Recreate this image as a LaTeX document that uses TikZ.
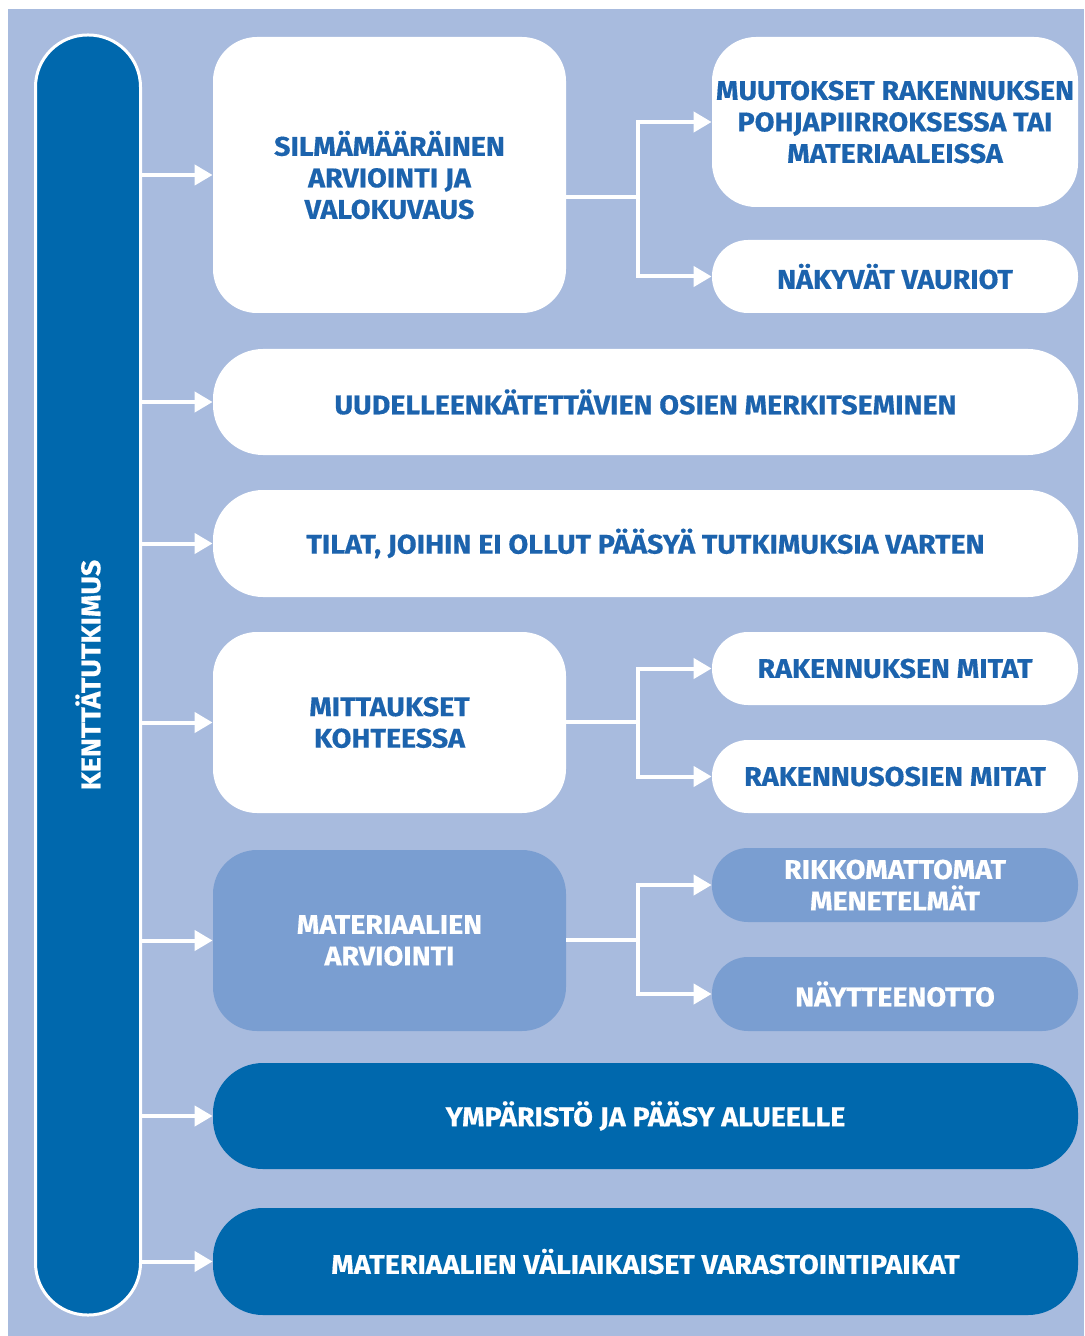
\documentclass[tikz,border=0pt]{standalone}
\usepackage{fontspec}
\usepackage{graphicx}
\setmainfont{Fira Sans}[BoldFeatures={FakeStretch=1.06,FakeBold=0.4}]
\usetikzlibrary{arrows.meta}
\definecolor{bg}{HTML}{A8BBDE}
\definecolor{dk}{HTML}{0068AD}
\definecolor{md}{HTML}{7A9ED1}
\definecolor{tx}{HTML}{1C63AD}
% name x1 y1 x2 y2 style radius text
\newcommand\bx[8]{%
\node[#6, rounded corners=#7, minimum width={(#4-#2)*0.5pt}, minimum height={(#5-#3)*0.5pt}] (#1) at ({(#2+#4)/2},{(#3+#5)/2}) {#8};}
\tikzset{
  base/.style={inner sep=0pt, align=center, font=\fontsize{13.5}{15.75}\selectfont\bfseries},
  wbox/.style={base, fill=white, text=tx},
  mbox/.style={base, fill=md, text=white},
  dbox/.style={base, fill=dk, text=white},
  conn/.style={draw=white, line width=2pt},
  arr/.style={conn, -{Triangle[length=9pt,width=10pt]}}
}
\begin{document}
\begin{tikzpicture}[x=0.5pt,y=-0.5pt]
\useasboundingbox (0,0) rectangle (1084,1336);
\fill[white] (0,0) rectangle (1084,1336);
\fill[bg] (8,9) rectangle (1084,1336);
% pillar
\node[base, fill=dk, draw=white, line width=1.5pt, text=white, rounded corners=26pt,
  minimum width=52.5pt, minimum height=640pt] (k) at (88,675) {\rotatebox{90}{KENTTÄTUTKIMUS}};
% boxes
\bx{b1}{213}{37}{566}{313}{wbox}{22pt}{SILMÄMÄÄRÄINEN\\ARVIOINTI JA\\VALOKUVAUS}
\bx{m1}{712}{37}{1078}{207}{wbox}{22pt}{MUUTOKSET RAKENNUKSEN\\POHJAPIIRROKSESSA TAI\\MATERIAALEISSA}
\bx{m2}{712}{240}{1078}{313}{wbox}{18pt}{NÄKYVÄT VAURIOT}
\bx{b2}{213}{349}{1078}{455}{wbox}{25pt}{UUDELLEENKÄTETTÄVIEN OSIEN MERKITSEMINEN}
\bx{b3}{213}{490}{1078}{597}{wbox}{25pt}{TILAT, JOIHIN EI OLLUT PÄÄSYÄ TUTKIMUKSIA VARTEN}
\bx{b4}{213}{632}{566}{813}{wbox}{22pt}{MITTAUKSET\\KOHTEESSA}
\bx{r1}{712}{632}{1078}{705}{wbox}{18pt}{RAKENNUKSEN MITAT}
\bx{r2}{712}{740}{1078}{813}{wbox}{18pt}{RAKENNUSOSIEN MITAT}
\bx{b5}{213}{850}{566}{1031}{mbox}{22pt}{MATERIAALIEN\\ARVIOINTI}
\bx{n1}{712}{848}{1078}{922}{mbox}{18pt}{RIKKOMATTOMAT\\MENETELMÄT}
\bx{n2}{712}{957}{1078}{1031}{mbox}{18pt}{NÄYTTEENOTTO}
\bx{b6}{213}{1063}{1078}{1169}{dbox}{25pt}{YMPÄRISTÖ JA PÄÄSY ALUEELLE}
\bx{b7}{213}{1208}{1078}{1315}{dbox}{25pt}{MATERIAALIEN VÄLIAIKAISET VARASTOINTIPAIKAT}
% arrows from pillar
\foreach \b in {b1,b2,b3,b4,b5,b6,b7}
  \draw[arr] (k.east |- \b.west) -- (\b.west);
% branches
\coordinate (j1) at (638,197);
\coordinate (j2) at (638,722);
\coordinate (j3) at (638,940);
\draw[conn] (b1.east |- j1) -- (j1);
\draw[arr] (j1) |- (m1.west);
\draw[arr] (j1) |- (m2.west);
\draw[conn] (b4.east |- j2) -- (j2);
\draw[arr] (j2) |- (r1.west);
\draw[arr] (j2) |- (r2.west);
\draw[conn] (b5.east |- j3) -- (j3);
\draw[arr] (j3) |- (n1.west);
\draw[arr] (j3) |- (n2.west);
\end{tikzpicture}
\end{document}
